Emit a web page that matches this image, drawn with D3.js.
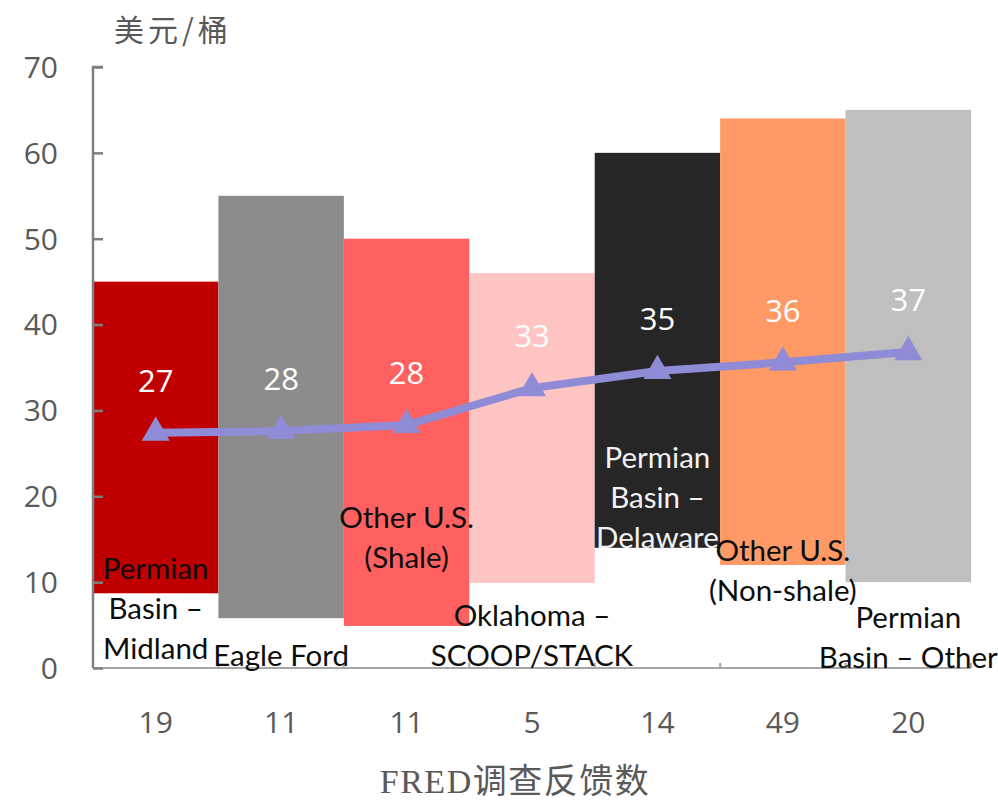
<!DOCTYPE html>
<html>
<head>
<meta charset="utf-8">
<script src="https://cdn.jsdelivr.net/npm/d3@7"></script>
<style>
  body { margin: 0; background: #fff; }
  svg { display: block; }
</style>
</head>
<body>
<svg id="chart"></svg>
<script>
// price range per basin (USD/bbl), breakeven line, survey counts
const categories = [
    ["Permian", "Basin –", "Midland"],
    ["Eagle Ford"],
    ["Other U.S.", "(Shale)"],
    ["Oklahoma –", "SCOOP/STACK"],
    ["Permian", "Basin –", "Delaware"],
    ["Other U.S.", "(Non-shale)"],
    ["Permian", "Basin – Other"]
];
const lowValues = [8.7, 5.8, 4.9, 9.9, 14, 12, 10];
const highValues = [45, 55, 50, 46, 60, 64, 65];
const avgValues = [27.4, 27.6, 28.3, 32.6, 34.6, 35.6, 36.8];
const responses = [19, 11, 11, 5, 14, 49, 20];
const labelAt = [6.9, 1.5, 15.2, 3.8, 19.9, 11.4, 3.6]; // where each name block is centred, in $/bbl
const barColors = ["#C00000", "#8C8C8C", "#FF6161", "#FFC5C5", "#262626", "#FF9966", "#BFBFBF"];
const yTicks = [0, 10, 20, 30, 40, 50, 60, 70];

const width = 998;
const height = 802;

const x = d3.scaleBand(d3.range(categories.length), [93, 971]).padding(0);
const y = d3.scaleLinear([0, 70], [668, 67]);

const svg = d3.select("#chart").attr("width", width).attr("height", height);

// bars (floating ranges)
svg.append("g")
    .selectAll("rect")
    .data(categories)
    .join("rect")
    .attr("x", (d, i) => x(i))
    .attr("width", x.bandwidth())
    .attr("y", (d, i) => y(highValues[i]))
    .attr("height", (d, i) => y(lowValues[i]) - y(highValues[i]))
    .attr("fill", (d, i) => barColors[i]);

// x axis with small ticks on band edges
svg.append("g")
    .attr("transform", `translate(0,${y(0)})`)
    .call(g => g.append("line")
        .attr("x1", 93).attr("x2", 971)
        .attr("stroke", "#A6A6A6").attr("stroke-width", 2))
    .call(g => g.selectAll("line.tk")
        .data(d3.range(categories.length + 1))
        .join("line")
        .attr("class", "tk")
        .attr("x1", i => x.step() * i + 93).attr("x2", i => x.step() * i + 93)
        .attr("y1", 0).attr("y2", -5)
        .attr("stroke", "#A6A6A6").attr("stroke-width", 2));

// y axis, ticks point inward
svg.append("g")
    .attr("transform", "translate(93,0)")
    .call(d3.axisRight(y).tickValues(yTicks).tickSize(10).tickFormat(""))
    .call(g => g.select(".domain").attr("stroke", "#7F7F7F").attr("stroke-width", 2.5)
        .attr("d", `M10,${y(70)}H0V${y(0)}`))
    .call(g => g.selectAll(".tick line").attr("stroke", "#7F7F7F").attr("stroke-width", 2.5));

svg.append("g")
    .selectAll("text")
    .data(yTicks)
    .join("text")
    .attr("x", 58)
    .attr("y", d => y(d))
    .attr("dy", "0.36em")
    .attr("text-anchor", "end")
    .attr("font-family", "'Open Sans', sans-serif")
    .attr("font-size", 30)
    .attr("fill", "#595959")
    .text(d => d);

// category name labels
const names = svg.append("g")
    .attr("font-family", "Lato, 'Noto Sans', sans-serif")
    .attr("font-size", 29.5)
    .attr("text-anchor", "middle");
categories.forEach((lines, i) => {
    const cy = y(labelAt[i]);
    const top = cy - (lines.length - 1) * 40 / 2;
    names.append("text")
        .attr("fill", i === 4 ? "#F2F2F2" : "#0D0D0D")
        .selectAll("tspan")
        .data(lines)
        .join("tspan")
        .attr("x", x(i) + x.bandwidth() / 2)
        .attr("y", (d, k) => top + k * 40)
        .attr("dy", "0.36em")
        .text(d => d);
});

// average line with triangle markers
const line = d3.line()
    .x((d, i) => x(i) + x.bandwidth() / 2)
    .y(d => y(d));

svg.append("path")
    .datum(avgValues)
    .attr("d", line)
    .attr("fill", "none")
    .attr("stroke", "#8F8BD7")
    .attr("stroke-width", 8)
    .attr("stroke-linejoin", "round");

svg.append("g")
    .selectAll("path")
    .data(avgValues)
    .join("path")
    .attr("transform", (d, i) => `translate(${x(i) + x.bandwidth() / 2},${y(d)})`)
    .attr("d", d3.symbol(d3.symbolTriangle, 340))
    .attr("fill", "#8F8BD7");

svg.append("g")
    .selectAll("text")
    .data(avgValues)
    .join("text")
    .attr("x", (d, i) => x(i) + x.bandwidth() / 2)
    .attr("y", d => y(d) - 52)
    .attr("dy", "0.36em")
    .attr("text-anchor", "middle")
    .attr("font-family", "'Open Sans', sans-serif")
    .attr("font-size", 31)
    .attr("fill", "#fff")
    .text(d => Math.round(d));

// response counts under axis
svg.append("g")
    .selectAll("text")
    .data(responses)
    .join("text")
    .attr("x", (d, i) => x(i) + x.bandwidth() / 2)
    .attr("y", 722)
    .attr("dy", "0.36em")
    .attr("text-anchor", "middle")
    .attr("font-family", "'Open Sans', sans-serif")
    .attr("font-size", 30)
    .attr("fill", "#595959")
    .text(d => d);

// titles
svg.append("text")
    .attr("x", 173)
    .attr("y", 30)
    .attr("dy", "0.36em")
    .attr("text-anchor", "middle")
    .attr("font-family", "'Noto Sans CJK SC', sans-serif")
    .attr("font-size", 30)
    .attr("letter-spacing", 4)
    .attr("fill", "#595959")
    .text("美元/桶");

svg.append("text")
    .attr("x", 515)
    .attr("y", 781)
    .attr("dy", "0.36em")
    .attr("text-anchor", "middle")
    .attr("font-family", "'Liberation Serif', 'Noto Sans CJK SC', serif")
    .attr("font-size", 34)
    .attr("letter-spacing", 1.5)
    .attr("fill", "#595959")
    .text("FRED调查反馈数");
</script>
</body>
</html>
